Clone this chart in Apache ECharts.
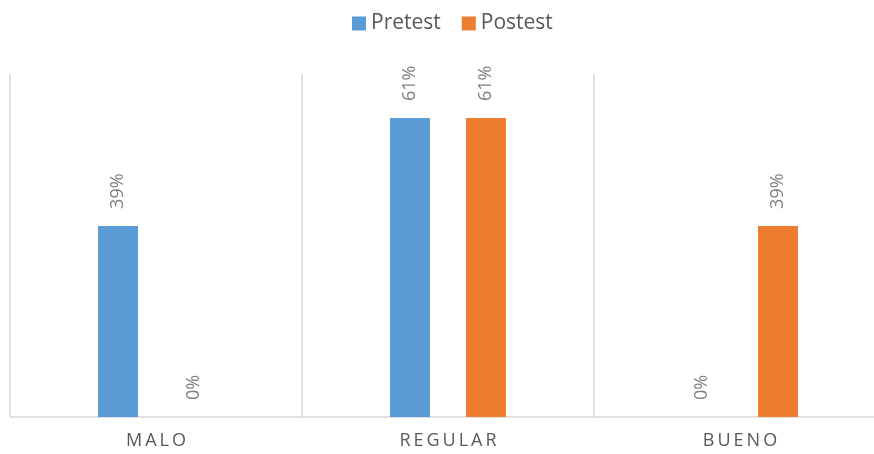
<!DOCTYPE html>
<html>
<head>
<meta charset="utf-8">
<script src="https://cdn.jsdelivr.net/npm/echarts@6/dist/echarts.min.js"></script>
<style>
  html, body { margin: 0; padding: 0; background: #fff; overflow: hidden; }
  #chart { width: 886px; height: 454px; }
</style>
</head>
<body>
<div id="chart"></div>
<script>
// Category names and percentage values for each test
const categories = ['MALO', 'REGULAR', 'BUENO'];
const pretest = [39, 61, 0];
const postest = [0, 61, 39];
const seriesNames = ['Pretest', 'Postest'];

const FONT = '"Open Sans", "Liberation Sans", sans-serif';

// Spread the letters of axis labels apart
function spaced(s) {
  return s.split('').join('\u2009');
}

const labelStyle = {
  show: true,
  position: 'top',
  rotate: 90,
  align: 'left',
  verticalAlign: 'middle',
  distance: 17,
  color: '#7f7f7f',
  fontFamily: FONT,
  fontSize: 18,
  formatter: p => p.value + '%'
};

const chart = echarts.init(document.getElementById('chart'));
chart.setOption({
  animation: false,
  legend: {
    top: 8,
    left: 347,
    itemWidth: 14,
    itemHeight: 14,
    itemGap: 21,
    icon: 'rect',
    textStyle: { color: '#595959', fontFamily: FONT, fontSize: 21 },
    data: seriesNames
  },
  grid: { left: 10, top: 74, width: 876, height: 343, containLabel: false },
  xAxis: {
    type: 'category',
    data: categories,
    boundaryGap: true,
    axisLine: { lineStyle: { color: '#d9d9d9', width: 1.5 } },
    axisTick: { show: false },
    splitLine: { show: true, lineStyle: { color: '#d9d9d9', width: 1.5 } },
    axisLabel: {
      color: '#595959',
      fontFamily: FONT,
      fontSize: 18,
      margin: 15,
      formatter: v => spaced(v)
    }
  },
  yAxis: {
    type: 'value',
    min: 0,
    max: 70,
    show: false,
    splitLine: { show: false }
  },
  series: [
    {
      name: seriesNames[0],
      type: 'bar',
      data: pretest,
      barWidth: 40,
      barGap: '90%',
      itemStyle: { color: '#5b9bd5' },
      label: labelStyle
    },
    {
      name: seriesNames[1],
      type: 'bar',
      data: postest,
      barWidth: 40,
      barGap: '90%',
      itemStyle: { color: '#ed7d31' },
      label: labelStyle
    }
  ]
});
</script>
</body>
</html>
